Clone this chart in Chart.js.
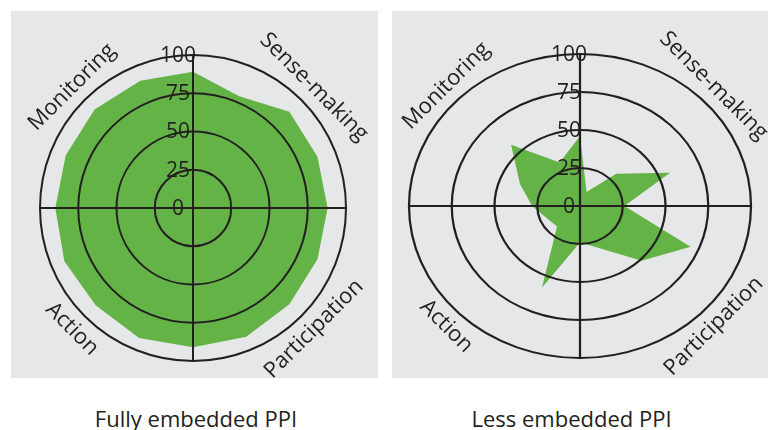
<!DOCTYPE html>
<html>
<head>
<meta charset="utf-8">
<script src="https://cdn.jsdelivr.net/npm/chart.js@4.4.1/dist/chart.umd.min.js"></script>
<style>
  body { margin: 0; background: #ffffff; width: 768px; height: 430px; position: relative; overflow: hidden; }
  .panel { position: absolute; background: #e6e7e8; }
  .panel canvas { display: block; }
  .caption { position: absolute; top: 407px; font-family: "Open Sans", sans-serif; font-size: 22px; line-height: 22px; color: #231f20; text-align: center; }
</style>
</head>
<body>
<div class="panel" style="left:11px; top:11px; width:367px; height:367px;">
  <canvas id="fullyChart" width="367" height="367"></canvas>
</div>
<div class="panel" style="left:392px; top:11px; width:376px; height:367px;">
  <canvas id="lessChart" width="376" height="367"></canvas>
</div>
<div class="caption" style="left:0; width:392px;">Fully embedded PPI</div>
<div class="caption" style="left:392px; width:359px;">Less embedded PPI</div>

<script>
// 16 items, four per dimension, clockwise from the top
const items = ['S1', 'S2', 'S3', 'S4', 'P1', 'P2', 'P3', 'P4', 'A1', 'A2', 'A3', 'A4', 'M1', 'M2', 'M3', 'M4'];
const dimensions = ['Sense-making', 'Participation', 'Action', 'Monitoring'];
const tickValues = [0, 25, 50, 75, 100];

const fullyEmbedded = [89, 79, 89, 88, 88, 88, 89, 91, 91, 92, 90, 91, 90, 90, 91, 90];
const lessEmbedded = [46, 10, 30, 57, 26, 70, 51, 30, 24, 58, 19, 21, 28, 38, 57, 31];

const ink = '#231f20';
const green = '#63b347';
const font = '"Open Sans", sans-serif';

// stretches the radar sideways (the right chart is an ellipse) and writes the texts
const radarText = {
  id: 'radarText',
  beforeDraw(chart, args, opts) {
    const r = chart.scales.r;
    const ctx = chart.ctx;
    ctx.save();
    ctx.translate(r.xCenter, 0);
    ctx.scale(opts.sx, 1);
    ctx.translate(-r.xCenter, 0);
  },
  afterDraw(chart, args, opts) {
    const r = chart.scales.r;
    const ctx = chart.ctx;
    ctx.restore();
    ctx.save();
    ctx.fillStyle = ink;
    ctx.textAlign = 'center';
    ctx.textBaseline = 'middle';

    // tick labels along the vertical axis
    ctx.font = '21px ' + font;
    tickValues.forEach(v => {
      const d = r.getDistanceFromCenterForValue(v);
      ctx.fillText(String(v), r.xCenter + opts.tickShift, r.yCenter - d + 1);
    });

    // dimension names on the diagonals
    ctx.font = '22px ' + font;
    const R = r.drawingArea;
    dimensions.forEach((name, i) => {
      const a = 45 + i * 90;
      const rad = a * Math.PI / 180;
      const x = r.xCenter + Math.sin(rad) * (R * opts.sx + 18);
      const y = r.yCenter - Math.cos(rad) * (R + 18);
      let rot = a;
      if (a > 90 && a < 270) rot -= 180;
      ctx.save();
      ctx.translate(x, y);
      ctx.rotate(rot * Math.PI / 180);
      ctx.fillText(name, 0, 0);
      ctx.restore();
    });
    ctx.restore();
  }
};

function drawRadar(id, values, padding, sx, tickShift) {
  const ctx = document.getElementById(id).getContext('2d');
  return new Chart(ctx, {
    type: 'radar',
    data: {
      labels: items,
      datasets: [{
        data: values,
        backgroundColor: green,
        borderWidth: 0,
        pointRadius: 0,
        fill: true
      }]
    },
    options: {
      responsive: false,
      animation: false,
      events: [],
      layout: { padding: padding },
      plugins: {
        legend: { display: false },
        tooltip: { enabled: false },
        radarText: { sx: sx, tickShift: tickShift }
      },
      scales: {
        r: {
          min: 0,
          max: 100,
          ticks: { stepSize: 25, display: false },
          pointLabels: { display: false },
          grid: { circular: true, color: ink, lineWidth: 2, z: 1 },
          angleLines: {
            color: ink,
            lineWidth: c => (c.index % 4 === 0 ? 2 : 0)
          }
        }
      }
    },
    plugins: [radarText]
  });
}

drawRadar('fullyChart', fullyEmbedded, { left: 29, top: 44, right: 32, bottom: 17 }, 1, -15);
drawRadar('lessChart', lessEmbedded, { left: 36, top: 43, right: 36, bottom: 20 }, 1.125, -11);
</script>
</body>
</html>
